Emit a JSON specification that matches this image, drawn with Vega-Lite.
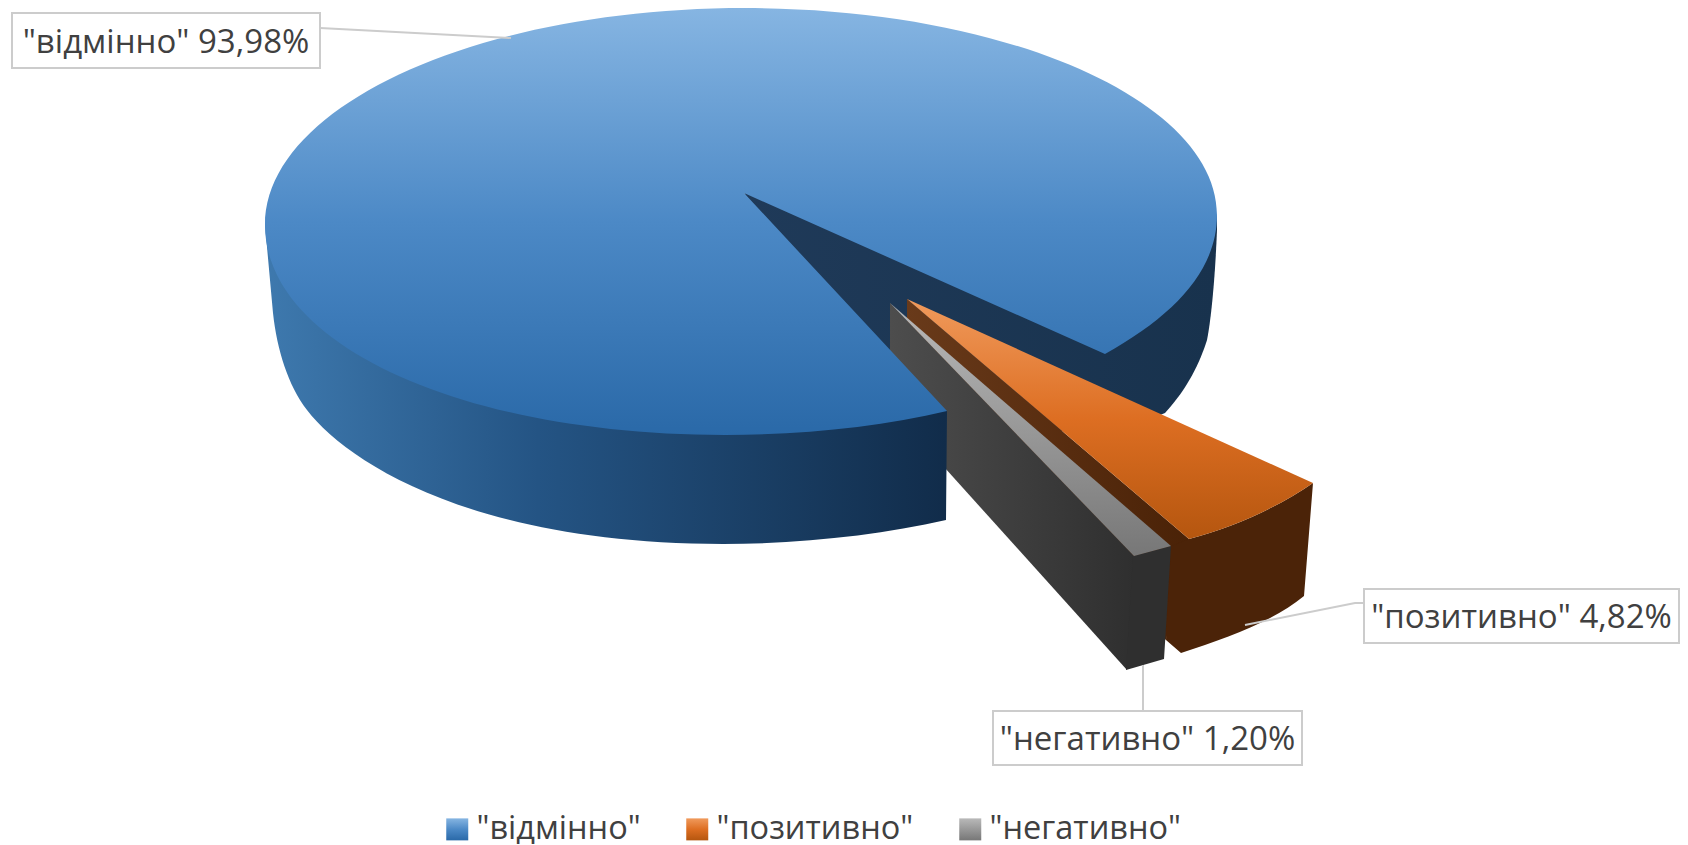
{
"$schema":"https://vega.github.io/schema/vega-lite/v6.json",
"width":1688,"height":844,"padding":0,"autosize":"none","background":"#ffffff",
"view":{"stroke":null},
"data":{"values":[
{"slice":"\"відмінно\"","share":93.98,"label":"\"відмінно\" 93,98%"},
{"slice":"\"позитивно\"","share":4.82,"label":"\"позитивно\" 4,82%"},
{"slice":"\"негативно\"","share":1.20,"label":"\"негативно\" 1,20%"}
]},
"resolve":{"scale":{"shape":"independent"}},
"layer":[
{"transform":[{"filter":"datum.share>50"}],"mark":{"type":"point","filled":true,"opacity":1,"size":4,"strokeWidth":0,"shape":"M-100,-229L373,-207L373,-192C371,-142,367,-102,363,-82C356,-60,344,-34,321,-9L256,18L106,-17L36,-42Z","fill":{"gradient":"linear","x1":0,"y1":0,"x2":1,"y2":0,"stops":[{"offset":0,"color":"#1f3a59"},{"offset":1,"color":"#18324d"}]}}},
{"transform":[{"filter":"datum.share>2 && datum.share<50"}],"mark":{"type":"point","filled":true,"opacity":1,"size":4,"strokeWidth":0,"shape":"M63,-123L345,117L322,218L63,-22Z","fill":{"gradient":"linear","x1":0,"y1":0,"x2":1,"y2":0,"stops":[{"offset":0,"color":"#693a1a"},{"offset":1,"color":"#4a2207"}]}}},
{"transform":[{"filter":"datum.share>2 && datum.share<50"}],"mark":{"type":"point","filled":true,"opacity":1,"size":4,"strokeWidth":0,"shape":"M345,117C391,105,434,85,469,61L460,174C428,200,383,216,337,231L322,218L327,124Z","fill":"#4b2308"}},
{"transform":[{"filter":"datum.share<2"}],"mark":{"type":"point","filled":true,"opacity":1,"size":4,"strokeWidth":0,"shape":"M46,-119L290,134L283,248L46,-15Z","fill":{"gradient":"linear","x1":0,"y1":0,"x2":1,"y2":0,"stops":[{"offset":0,"color":"#4d4d4d"},{"offset":1,"color":"#2f2f2f"}]}}},
{"transform":[{"filter":"datum.share<2"}],"mark":{"type":"point","filled":true,"opacity":1,"size":4,"strokeWidth":0,"shape":"M289,134L327,124L320,237L282,248Z","fill":"#2f2f2f"}},
{"transform":[{"filter":"datum.share>50"}],"mark":{"type":"point","filled":true,"opacity":1,"size":4,"strokeWidth":0,"shape":"M-579,-197L-571,-109C-567,-72,-556,-37,-537,-12C-499,38,-374,122,-121,122C-44,122,36,113,102,98L103,-11L-119,-22Z","fill":{"gradient":"linear","x1":0,"y1":0,"x2":1,"y2":0,"stops":[{"offset":0,"color":"#3e79ae"},{"offset":0.4,"color":"#245484"},{"offset":1,"color":"#112c4a"}]}}},
{"mark":{"type":"point","filled":true,"opacity":1,"size":4,"strokeWidth":0},
 "encoding":{
  "shape":{"field":"slice","type":"nominal","legend":null,"scale":{"domain":["\"відмінно\"","\"позитивно\"","\"негативно\""],"range":["M-100,-229L261,-68C331,-107,373,-152,373,-207C373,-321,162,-414,-99,-414C-364,-414,-579,-317,-579,-197C-579,-77,-381,13,-119,13C-44,13,36,5,103,-11Z","M63,-123L469,61C434,85,391,105,345,117Z","M46,-119L327,124L290,134Z"]}},
  "color":{"field":"slice","type":"nominal","sort":null,
   "scale":{"domain":["\"відмінно\"","\"позитивно\"","\"негативно\""],"range":[
    {"expr":"{gradient:'linear',x1:0,y1:0,x2:0,y2:1,stops:[{offset:0,color:'#86b5e2'},{offset:0.5,color:'#4c89c6'},{offset:1,color:'#2a69a8'}]}"},
    {"expr":"{gradient:'linear',x1:0,y1:0,x2:0,y2:1,stops:[{offset:0,color:'#f09a5c'},{offset:0.5,color:'#dd6e22'},{offset:1,color:'#b5560f'}]}"},
    {"expr":"{gradient:'linear',x1:0,y1:0,x2:0,y2:1,stops:[{offset:0,color:'#b9b9b9'},{offset:1,color:'#777777'}]}"}
   ]},
   "legend":{"title":null,"orient":"none","legendX":441,"legendY":813,"direction":"horizontal","columns":3,"columnPadding":40,"symbolType":"square","symbolSize":484,"symbolStrokeWidth":0,"symbolOpacity":1,"labelFont":"Open Sans","labelFontSize":32.5,"labelColor":"#404040","labelOffset":3,"labelLimit":400}}
 }},
{"resolve":{"scale":{"shape":"independent"}},
 "encoding":{
  "x":{"field":"share","type":"quantitative","axis":null,"scale":{"domain":[1.2,4.82,93.98],"range":[1147.5,1521.5,166],"zero":false,"nice":false}},
  "y":{"field":"share","type":"quantitative","axis":null,"scale":{"domain":[1.2,4.82,93.98],"range":[738,616,40.5],"zero":false,"nice":false}}
 },
 "layer":[
 {"mark":{"type":"point","filled":false,"opacity":1,"size":4,"stroke":"#cccccc","strokeWidth":2},
  "encoding":{"shape":{"field":"slice","type":"nominal","legend":null,"scale":{"domain":["\"відмінно\"","\"позитивно\"","\"негативно\""],"range":["M154,-12.5L345,-2.5","M-157.5,-13L-166.5,-13L-276.5,9","M-4.5,-27L-4.5,-73"]}}}},
 {"mark":{"type":"point","filled":true,"opacity":1,"size":4,"fill":"#ffffff","stroke":"#cccccc","strokeWidth":2},
  "encoding":{"shape":{"field":"slice","type":"nominal","legend":null,"scale":{"domain":["\"відмінно\"","\"позитивно\"","\"негативно\""],"range":["M-154,-27.5H154V27.5H-154Z","M-157.5,-27H157.5V27H-157.5Z","M-154.5,-27H154.5V27H-154.5Z"]}}}},
 {"mark":{"type":"text","font":"Open Sans","fontSize":33,"color":"#404040","align":"center","baseline":"middle","dy":2},
  "encoding":{"text":{"field":"label"}}}
 ]}
]
}
